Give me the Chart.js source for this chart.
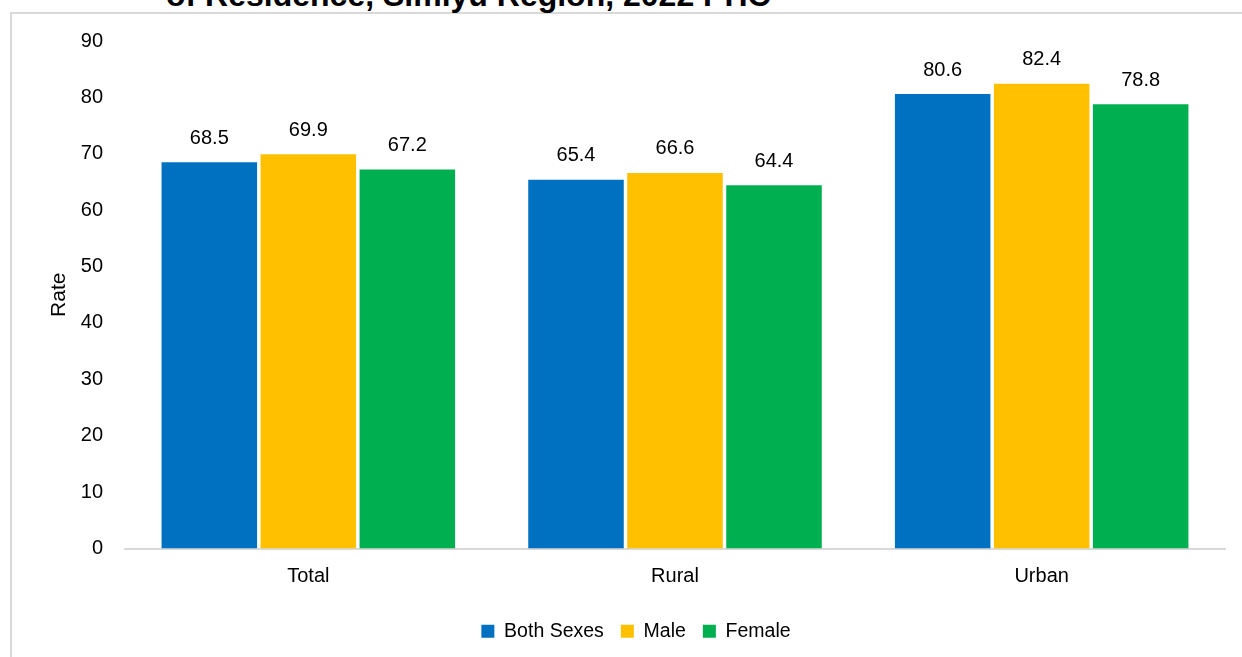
<!DOCTYPE html>
<html><head><meta charset="utf-8">
<script src="https://cdn.jsdelivr.net/npm/chart.js@4.4.1/dist/chart.umd.min.js"></script>
<style>
html,body{margin:0;padding:0;background:#fff;overflow:hidden;}
#frame{position:absolute;left:10px;top:12px;width:1260px;height:680px;border:2px solid #d9d9d9;background:#fff;box-sizing:border-box;}
#title{position:absolute;left:166px;top:-23px;font:bold 32px "Liberation Sans",Arial,sans-serif;line-height:normal;color:#000;white-space:nowrap;}
#wrap{position:absolute;left:0;top:0;width:1242px;height:657px;}
</style></head>
<body>
<div id="frame"></div>
<div id="title">of Residence, Simiyu Region, 2022 PHC</div>
<div id="wrap"><canvas id="c" width="1242" height="657"></canvas></div>
<script>
const categories = ["Total", "Rural", "Urban"];
const seriesNames = ["Both Sexes", "Male", "Female"];
const bothSexes = [68.5, 65.4, 80.6];
const male = [69.9, 66.6, 82.4];
const female = [67.2, 64.4, 78.8];
const yTicks = [0,10,20,30,40,50,60,70,80,90];
const colors = ["#0070C0", "#FFC000", "#00B050"];

const FONT = '"Liberation Sans", Arial, sans-serif';

const labelPlugin = {
  id: 'valueLabels',
  afterDatasetsDraw(chart) {
    const ctx = chart.ctx;
    ctx.save();
    ctx.font = '20px ' + FONT;
    ctx.fillStyle = '#000';
    ctx.textAlign = 'center';
    ctx.textBaseline = 'middle';
    chart.data.datasets.forEach((ds, i) => {
      const meta = chart.getDatasetMeta(i);
      meta.data.forEach((bar, j) => {
        ctx.fillText(ds.data[j].toFixed(1), bar.x, bar.y - 24);
      });
    });
    ctx.restore();
  }
};

new Chart(document.getElementById('c'), {
  type: 'bar',
  data: {
    labels: categories,
    datasets: [
      {label: seriesNames[0], data: bothSexes, backgroundColor: colors[0]},
      {label: seriesNames[1], data: male, backgroundColor: colors[1]},
      {label: seriesNames[2], data: female, backgroundColor: colors[2]}
    ]
  },
  options: {
    responsive: false,
    animation: false,
    devicePixelRatio: 1,
    layout: {padding: {left: 47, right: 17, top: 41, bottom: 6}},
    datasets: {bar: {categoryPercentage: 0.81, barPercentage: 0.965}},
    plugins: {
      legend: {
        position: 'bottom',
        labels: {font: {size: 19.5, family: FONT}, color: '#000', boxWidth: 13, boxHeight: 13, padding: 17}
      },
      tooltip: {enabled: false}
    },
    scales: {
      x: {
        grid: {display: false, drawTicks: false},
        border: {display: true, color: '#d9d9d9', width: 2},
        ticks: {font: {size: 20, family: FONT}, color: '#000', padding: 16}
      },
      y: {
        min: 0, max: 90,
        afterBuildTicks: (s) => { s.ticks = yTicks.map(v => ({value: v})); },
        afterFit: (s) => { s.width = 78; },
        grid: {display: false, drawTicks: false},
        border: {display: false},
        ticks: {font: {size: 20, family: FONT}, color: '#000', padding: 22},
        title: {display: true, text: 'Rate', font: {size: 21, family: FONT}, color: '#000', padding: {top: 0, bottom: 0}}
      }
    }
  },
  plugins: [labelPlugin]
});
</script>
</body></html>
